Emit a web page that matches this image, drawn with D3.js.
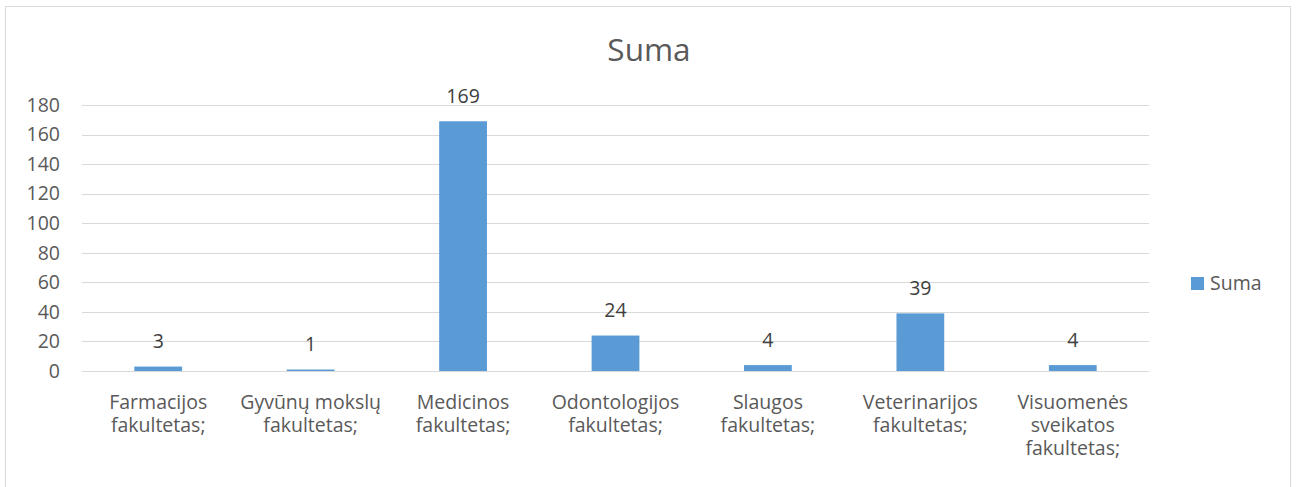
<!DOCTYPE html>
<html>
<head>
<meta charset="utf-8">
<script src="https://d3js.org/d3.v7.min.js"></script>
<style>
  body { margin: 0; background: #fff; }
  text { font-family: "Open Sans", sans-serif; fill: #595959; }
</style>
</head>
<body>
<svg width="1297" height="487"></svg>
<script>
// data
const categories = [
  ['Farmacijos', 'fakultetas;'],
  ['Gyvūnų mokslų', 'fakultetas;'],
  ['Medicinos', 'fakultetas;'],
  ['Odontologijos', 'fakultetas;'],
  ['Slaugos', 'fakultetas;'],
  ['Veterinarijos', 'fakultetas;'],
  ['Visuomenės', 'sveikatos', 'fakultetas;']
];
const values = [3, 1, 169, 24, 4, 39, 4];
const yTicks = [0, 20, 40, 60, 80, 100, 120, 140, 160, 180];
const seriesName = 'Suma';

const svg = d3.select('svg');
const fs = 19.5;

// chart frame
svg.append('rect')
  .attr('x', 5.5).attr('y', 6.5)
  .attr('width', 1285).attr('height', 500)
  .attr('fill', '#fff')
  .attr('stroke', '#d9d9d9');

const plotLeft = 82, plotRight = 1149, plotTop = 105, plotBottom = 371;

const x = d3.scaleBand()
  .domain(d3.range(categories.length))
  .range([plotLeft, plotRight])
  .paddingInner(219 / 319)
  .paddingOuter(219 / 319 / 2);

const y = d3.scaleLinear().domain([0, 180]).range([plotBottom, plotTop]);

// gridlines
svg.append('g')
  .selectAll('line')
  .data(yTicks)
  .join('line')
  .attr('x1', plotLeft).attr('x2', plotRight)
  .attr('y1', d => Math.round(y(d)) + 0.5)
  .attr('y2', d => Math.round(y(d)) + 0.5)
  .attr('stroke', '#d9d9d9')
  .attr('stroke-width', 1);

// y labels
svg.append('g')
  .selectAll('text')
  .data(yTicks)
  .join('text')
  .attr('x', 60)
  .attr('y', d => y(d))
  .attr('dy', '0.35em')
  .attr('text-anchor', 'end')
  .attr('font-size', fs)
  .text(d => d);

// bars
svg.append('g')
  .selectAll('rect')
  .data(values)
  .join('rect')
  .attr('x', (d, i) => x(i))
  .attr('width', x.bandwidth())
  .attr('y', d => y(d))
  .attr('height', d => plotBottom - y(d))
  .attr('fill', '#5b9bd5');

// value labels
svg.append('g')
  .selectAll('text')
  .data(values)
  .join('text')
  .attr('x', (d, i) => x(i) + x.bandwidth() / 2)
  .attr('y', d => y(d) - 25)
  .attr('dy', '0.35em')
  .attr('text-anchor', 'middle')
  .attr('font-size', fs)
  .style('fill', '#404040')
  .text(d => d);

// category labels
const cat = svg.append('g')
  .selectAll('text')
  .data(categories)
  .join('text')
  .attr('x', (d, i) => x(i) + x.bandwidth() / 2)
  .attr('y', 402)
  .attr('text-anchor', 'middle')
  .attr('font-size', fs);
cat.selectAll('tspan')
  .data(d => d)
  .join('tspan')
  .attr('x', function () { return d3.select(this.parentNode).attr('x'); })
  .attr('dy', (d, i) => i === 0 ? '0.35em' : 23)
  .text(d => d);

// title
svg.append('text')
  .attr('x', 649).attr('y', 50)
  .attr('dy', '0.35em')
  .attr('text-anchor', 'middle')
  .attr('font-size', 31.5)
  .text(seriesName);

// legend
svg.append('rect')
  .attr('x', 1191).attr('y', 277)
  .attr('width', 13).attr('height', 13)
  .attr('fill', '#5b9bd5');
svg.append('text')
  .attr('x', 1210).attr('y', 283)
  .attr('dy', '0.35em')
  .attr('font-size', fs)
  .text(seriesName);
</script>
</body>
</html>
